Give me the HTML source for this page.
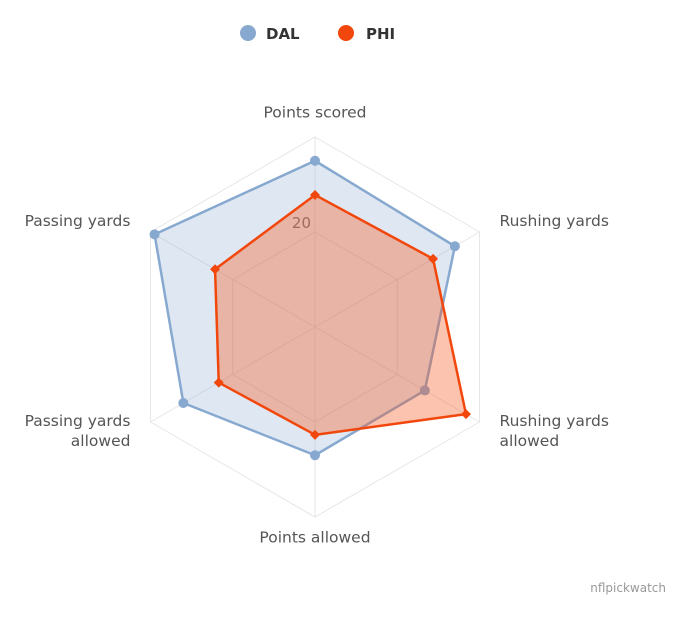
<!DOCTYPE html>
<html><head><meta charset="utf-8"><style>
body{margin:0;background:#fff;font-family:"DejaVu Sans",sans-serif;}
svg text{font-family:"DejaVu Sans",sans-serif;}
</style></head><body>
<svg id="chart" width="687" height="617" xmlns="http://www.w3.org/2000/svg">
<g id="grid"></g>
<g id="series"></g>
<g id="labels"></g>
<g>
<circle cx="248" cy="33" r="8" fill="#87a9cf"/>
<text x="266" y="39" font-size="15" font-weight="bold" fill="#333">DAL</text>
<circle cx="346" cy="33" r="8" fill="#f2470c"/>
<text x="366" y="39" font-size="15" font-weight="bold" fill="#333">PHI</text>
</g>
<text x="666" y="592" font-size="12" fill="#999" text-anchor="end">nflpickwatch</text>
</svg>
<script>
const categories=["Points scored","Rushing yards","Rushing yards\nallowed","Points allowed","Passing yards\nallowed","Passing yards"];
const dalValues=[35,34,26.7,27,32,39];
const phiValues=[27.8,28.7,36.7,22.7,23.4,24.3];
const ticks=[20,40];
const maxV=40,cx=315,cy=327,R=190;
const NS="http://www.w3.org/2000/svg";
function pt(i,v){const a=-Math.PI/2+i*Math.PI/3;const r=v/maxV*R;return [cx+r*Math.cos(a),cy+r*Math.sin(a)];}
function mk(t,attrs,parent){const e=document.createElementNS(NS,t);for(const k in attrs)e.setAttribute(k,attrs[k]);parent.appendChild(e);return e;}
const grid=document.getElementById('grid');
categories.forEach((c,i)=>{const p=pt(i,maxV);const l=mk('line',{x1:cx,y1:cy,x2:p[0],y2:p[1],stroke:'#e6e6e6'},grid);

});
ticks.forEach(t=>{const pts=categories.map((c,i)=>pt(i,t).join(',')).join(' ');const g=mk('polygon',{points:pts,fill:'none',stroke:'#e6e6e6'},grid);

});
const tl=mk('text',{x:cx-4,y:pt(0,20)[1]-4,'font-size':15,fill:'#666','text-anchor':'end'},grid);tl.textContent='20';


const sg=document.getElementById('series');
function drawSeries(vals,col,fill,op,name,diamond){
 const pts=vals.map((v,i)=>pt(i,v));
 const poly=mk('polygon',{points:pts.map(p=>p.join(',')).join(' '),fill:fill,'fill-opacity':op,stroke:col,'stroke-width':2.5,'stroke-linejoin':'round'},sg);
 
 
 pts.forEach(p=>{let m;
  if(diamond){m=mk('polygon',{points:`${p[0]},${p[1]-5} ${p[0]+5},${p[1]} ${p[0]},${p[1]+5} ${p[0]-5},${p[1]}`,fill:col},sg);}
  else{m=mk('circle',{cx:p[0],cy:p[1],r:5,fill:col},sg);}
  
  });
}
drawSeries(dalValues,'#87a9cf','#87a9cf',0.27,'dal',false);
drawSeries(phiValues,'#f2470c','#f7541a',0.35,'phi',true);
const lg=document.getElementById('labels');
categories.forEach((c,i)=>{const p=pt(i,maxV+4.5);const lines=c.split('\n');
 let anchor='middle';if(p[0]>cx+5)anchor='start';if(p[0]<cx-5)anchor='end';
 let y=p[1]+5;if(i==0)y=p[1]+2;if(i==3)y=p[1]+4;
 if(i==1||i==5)y=pt(i,maxV)[1]-6;if(i==2||i==4)y=pt(i,maxV)[1]+4;
 const x=(i==0||i==3)?cx:(p[0]>cx?pt(i,maxV)[0]+20:pt(i,maxV)[0]-20);
 const t=mk('text',{x:x,y:y,'font-size':15.5,fill:'#555','text-anchor':anchor},lg);
 
 
 lines.forEach((ln,j)=>{const ts=mk('tspan',{x:x,dy:j?20:0},t);ts.textContent=ln;});});
</script>
</body></html>
